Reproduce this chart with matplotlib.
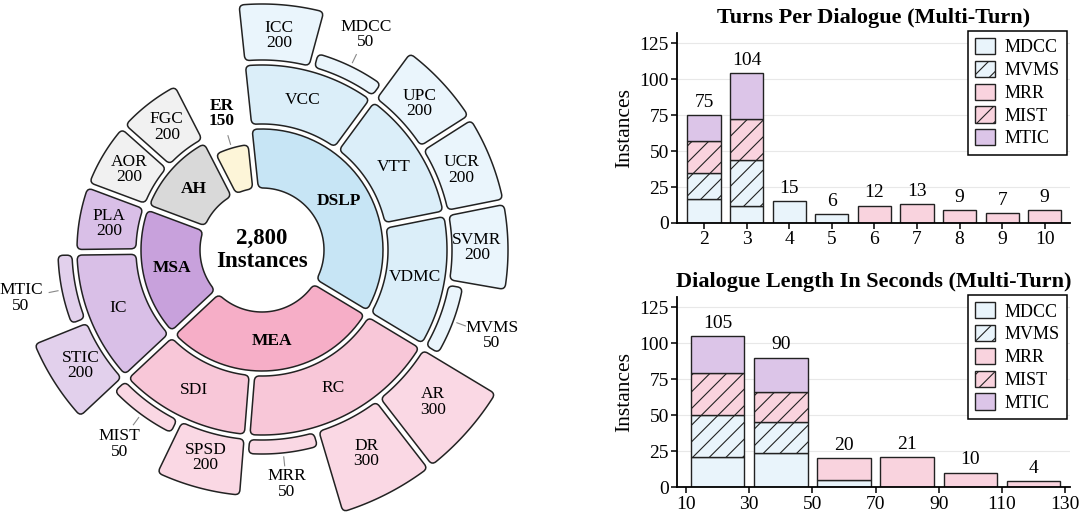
import numpy as np
import matplotlib
matplotlib.use('Agg')
import matplotlib.pyplot as plt
from matplotlib.path import Path
from matplotlib.patches import PathPatch, Patch

plt.rcParams['font.family'] = ['Liberation Serif', 'DejaVu Serif']
plt.rcParams['hatch.linewidth'] = 0.8

# ---- sunburst data ----
domains = ['DSLP', 'MEA', 'MSA', 'AH', 'ER']
groups = ['VCC', 'VTT', 'VDMC', 'RC', 'SDI', 'IC', 'PLA', 'AOR', 'FGC']
group_domain = ['DSLP', 'DSLP', 'DSLP', 'MEA', 'MEA', 'MSA', 'MSA', 'AH', 'AH']
tasks = ['ICC', 'MDCC', 'UPC', 'UCR', 'SVMR', 'MVMS', 'AR', 'DR', 'MRR',
         'SPSD', 'MIST', 'STIC', 'MTIC']
task_group = ['VCC', 'VCC', 'VTT', 'VTT', 'VDMC', 'VDMC', 'RC', 'RC', 'RC',
              'SDI', 'SDI', 'IC', 'IC']
task_counts = [200, 50, 200, 200, 200, 50, 300, 300, 50, 200, 50, 200, 50]
leaf_group_counts = {'PLA': 200, 'AOR': 200, 'FGC': 200}
leaf_domain_counts = {'ER': 150}

# ---- bar chart data ----
series = ['MDCC', 'MVMS', 'MRR', 'MIST', 'MTIC']
turns = [2, 3, 4, 5, 6, 7, 8, 9, 10]
turns_data = {
    'MDCC': [17, 12, 15, 6, 0, 0, 0, 0, 0],
    'MVMS': [18, 32, 0, 0, 0, 0, 0, 0, 0],
    'MRR':  [0, 0, 0, 0, 12, 13, 9, 7, 9],
    'MIST': [22, 28, 0, 0, 0, 0, 0, 0, 0],
    'MTIC': [18, 32, 0, 0, 0, 0, 0, 0, 0],
}
len_edges = [10, 30, 50, 70, 90, 110, 130]
len_data = {
    'MDCC': [21, 24, 5, 0, 0, 0],
    'MVMS': [29, 21, 0, 0, 0, 0],
    'MRR':  [0, 0, 15, 21, 10, 4],
    'MIST': [29, 21, 0, 0, 0, 0],
    'MTIC': [26, 24, 0, 0, 0, 0],
}

# styles
pal = {'DSLP': ['#c7e5f5', '#dbeef9', '#eaf5fc'],
       'MEA': ['#f6aec7', '#f8c7d8', '#fad8e4'],
       'MSA': ['#c8a1dc', '#d9bfe7', '#e2d0ec'],
       'AH': ['#d9d9d9', '#f1f1f1', '#f1f1f1'],
       'ER': ['#fdf5d8']}
ser_color = {'MDCC': '#e9f4fb', 'MVMS': '#e9f4fb', 'MRR': '#f9d3de',
             'MIST': '#f9d3de', 'MTIC': '#dcc5e8'}
ser_hatch = {'MDCC': '', 'MVMS': '//', 'MRR': '', 'MIST': '//', 'MTIC': ''}

RINGS = [(62, 121), (126, 185), (190, 246)]
FULL = 200
EDGE = '#222222'


def pt(r, a):
    return np.array([r * np.cos(np.radians(a)), r * np.sin(np.radians(a))])


def sector(ax, r1, r2, a1, a2, color, h=2.8, rc=5.0):
    rc = min(rc, (r2 - r1) / 2.6)
    lo = lambda r: a1 + np.degrees(np.arcsin(h / r))
    hi = lambda r: a2 - np.degrees(np.arcsin(h / r))
    A, B = pt(r1, lo(r1)), pt(r2, lo(r2))
    C, D = pt(r2, hi(r2)), pt(r1, hi(r1))
    u = (B - A) / np.linalg.norm(B - A)
    v = (D - C) / np.linalg.norm(D - C)
    verts, codes = [A + u * rc], [Path.MOVETO]
    verts += [B - u * rc]; codes += [Path.LINETO]
    outer = np.linspace(lo(r2) + np.degrees(rc / r2), hi(r2) - np.degrees(rc / r2), 40)
    verts += [B, pt(r2, outer[0])]; codes += [Path.CURVE3] * 2
    for a in outer[1:]:
        verts.append(pt(r2, a)); codes.append(Path.LINETO)
    verts += [C, C + v * rc]; codes += [Path.CURVE3] * 2
    verts += [D - v * rc]; codes += [Path.LINETO]
    inner = np.linspace(hi(r1) - np.degrees(rc / r1), lo(r1) + np.degrees(rc / r1), 40)
    verts += [D, pt(r1, inner[0])]; codes += [Path.CURVE3] * 2
    for a in inner[1:]:
        verts.append(pt(r1, a)); codes.append(Path.LINETO)
    verts += [A, A + u * rc]; codes += [Path.CURVE3] * 2
    verts += [A + u * rc]; codes += [Path.CLOSEPOLY]
    ax.add_patch(PathPatch(Path(verts, codes), facecolor=color, edgecolor=EDGE, lw=1.1))


def ring_span(level, value=None):
    # leaf thickness scales with its count (200 = one full ring)
    r1, r2 = RINGS[level]
    if value is not None:
        r2 = r1 + (r2 - r1) * value / FULL
    return r1, r2


def inside_label(ax, text, r, a, bold=False, size=12.5):
    x, y = pt(r, a)
    ax.text(x, y, text, ha='center', va='center', fontsize=size,
            fontweight='bold' if bold else 'normal', linespacing=0.95)


def outside_label(ax, text, r_out, a, r_text, bold=False):
    p1, p2 = pt(r_out + 4, a), pt(r_out + 13, a)
    ax.plot([p1[0], p2[0]], [p1[1], p2[1]], color='#888888', lw=0.8)
    x, y = pt(r_text, a)
    ax.text(x, y, text, ha='center', va='center', fontsize=12.5,
            fontweight='bold' if bold else 'normal', linespacing=0.95)


fig = plt.figure(figsize=(10.8, 5.15), dpi=100)
ax = fig.add_axes([0, 0, 0.5, 1])
ax.set_xlim(-262, 278)
ax.set_ylim(-265, 250)
ax.set_aspect('equal')
ax.axis('off')

n_leaves = len(tasks) + len(leaf_group_counts) + len(leaf_domain_counts)
slot = 360.0 / n_leaves
cursor = 96.0
for d in domains:
    d_start = cursor
    cols = pal[d]
    d_groups = [g for g, gd in zip(groups, group_domain) if gd == d]
    if not d_groups:
        val = leaf_domain_counts[d]
        cursor -= slot
        r1, r2 = ring_span(0, val)
        sector(ax, r1, r2, cursor, d_start, cols[0])
        mid = (cursor + d_start) / 2
        outside_label(ax, f'{d}\n{val}', r2, mid, r2 + 36, bold=True)
        continue
    for g in d_groups:
        g_start = cursor
        g_tasks = [(t, c) for t, tg, c in zip(tasks, task_group, task_counts) if tg == g]
        if not g_tasks:
            val = leaf_group_counts[g]
            cursor -= slot
            r1, r2 = ring_span(1, val)
            sector(ax, r1, r2, cursor, g_start, cols[1])
            inside_label(ax, f'{g}\n{val}', (r1 + r2) / 2, (cursor + g_start) / 2)
            continue
        for t, c in g_tasks:
            t_start = cursor
            cursor -= slot
            r1, r2 = ring_span(2, c)
            sector(ax, r1, r2, cursor, t_start, cols[2])
            mid = (cursor + t_start) / 2
            if c >= FULL:
                inside_label(ax, f'{t}\n{c}', (r1 + r2) / 2 - 3, mid)
            else:
                r_text = 234 + 12 * abs(np.cos(np.radians(mid)))
                outside_label(ax, f'{t}\n{c}', r2, mid, r_text)
        r1, r2 = ring_span(1)
        sector(ax, r1, r2, cursor, g_start, cols[1])
        inside_label(ax, g, (r1 + r2) / 2, (cursor + g_start) / 2)
    r1, r2 = ring_span(0)
    sector(ax, r1, r2, cursor, d_start, cols[0])
    inside_label(ax, d, (r1 + r2) / 2, (cursor + d_start) / 2, bold=True)

total = sum(task_counts) + sum(leaf_group_counts.values()) + sum(leaf_domain_counts.values())
ax.text(0, 0, f'{total:,}\nInstances', ha='center', va='center', fontsize=16.5,
        fontweight='bold', linespacing=1.1)


# ---- stacked bar panels ----
def bar_panel(ax, x, width, data, title, xticks):
    bottom = np.zeros(len(x))
    for s in series:
        vals = np.array(data[s], dtype=float)
        m = vals > 0
        ax.bar(np.array(x)[m], vals[m], width=width, bottom=bottom[m],
               color=ser_color[s], hatch=ser_hatch[s], edgecolor=EDGE, lw=1.0, zorder=2)
        bottom += vals
    for xi, tot in zip(x, bottom):
        ax.text(xi, tot + 3, f'{int(tot)}', ha='center', va='bottom', fontsize=14)
    ax.set_ylim(0, 132)
    ax.set_yticks([0, 25, 50, 75, 100, 125])
    ax.set_xticks(xticks)
    ax.set_axisbelow(True)
    ax.yaxis.grid(True, color='#e8e8e8', lw=0.8)
    for sp in ['top', 'right']:
        ax.spines[sp].set_visible(False)
    for sp in ['left', 'bottom']:
        ax.spines[sp].set_linewidth(1.3)
        ax.spines[sp].set_color('black')
    ax.tick_params(labelsize=14, direction='out', length=4, width=1.1, pad=2)
    ax.set_ylabel('Instances', fontsize=15.5, labelpad=4)
    ax.set_title(title, fontsize=16, fontweight='bold', pad=7)
    handles = [Patch(facecolor=ser_color[s], hatch=ser_hatch[s], edgecolor=EDGE, lw=1.0)
               for s in series]
    leg = ax.legend(handles, series, loc='upper right', bbox_to_anchor=(1.0, 1.03),
                    fontsize=13, fancybox=False, framealpha=1, edgecolor='black',
                    handlelength=1.1, handleheight=1.0, labelspacing=0.25,
                    borderpad=0.4, handletextpad=0.5, borderaxespad=0.2)
    leg.get_frame().set_linewidth(1.1)


ax1 = fig.add_axes([0.627, 0.567, 0.364, 0.369])
bar_panel(ax1, turns, 0.78, turns_data, 'Turns Per Dialogue (Multi-Turn)', turns)
ax1.set_xlim(1.37, 10.6)

ax2 = fig.add_axes([0.627, 0.054, 0.364, 0.369])
centers = [(a + b) / 2 for a, b in zip(len_edges[:-1], len_edges[1:])]
bar_panel(ax2, centers, 17, len_data, 'Dialogue Length In Seconds (Multi-Turn)', len_edges)
ax2.set_xlim(7.2, 131.6)

fig.savefig('out.png', dpi=100)
